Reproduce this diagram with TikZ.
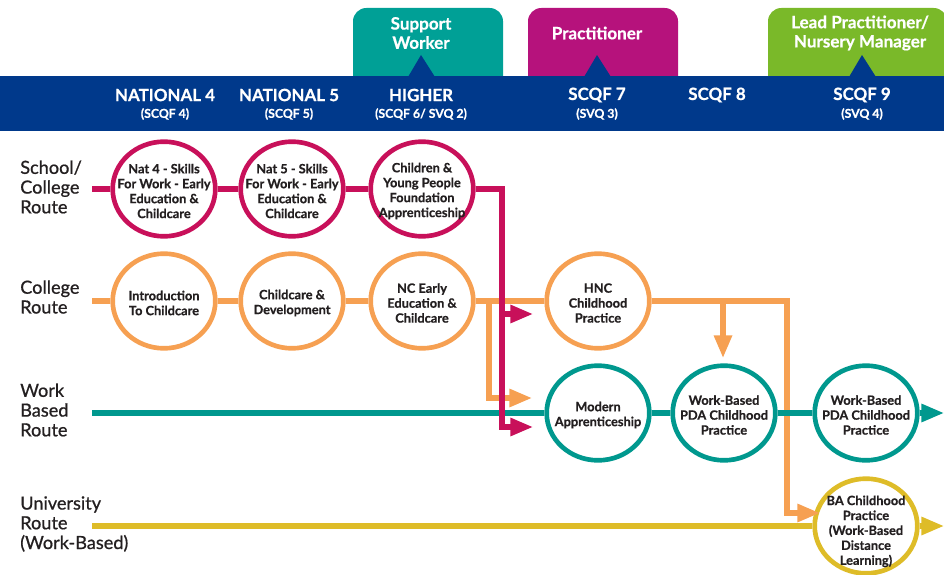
\documentclass[tikz,border=0pt]{standalone}
\usepackage{fontspec}
\setmainfont{Lato}[BoldFeatures={FakeBold=0.6}]
\newfontfamily\rowfont{Lato}[FakeBold=0.8]
\usetikzlibrary{shapes.geometric,arrows.meta}
\definecolor{bandblue}{RGB}{0,57,139}
\definecolor{swteal}{RGB}{0,160,150}
\definecolor{prmag}{RGB}{182,18,124}
\definecolor{lpgreen}{RGB}{122,185,41}
\definecolor{crim}{RGB}{200,16,90}
\definecolor{orng}{RGB}{246,160,82}
\definecolor{tline}{RGB}{0,152,142}
\definecolor{ylw}{RGB}{222,188,40}
\definecolor{ink}{RGB}{35,31,32}
\begin{document}
\begin{tikzpicture}[x=0.75pt,y=0.75pt,yscale=-1,xscale=1,
  ring/.style={ellipse,draw=#1,line width=3.5pt,fill=white,minimum width=77pt,minimum height=71pt,inner sep=0pt},
  ctext/.style={align=center,text=ink,inner sep=0pt,yshift=-1.5pt,font=\fontsize{9.6}{11.2}\selectfont\bfseries},
  route/.style={draw=#1,line width=3.8pt},
  routearr/.style={route=#1,-{Triangle[length=17pt,width=13pt]}},
  rowlab/.style={anchor=west,align=left,text=ink,inner sep=0pt,font=\fontsize{13.6}{14.8}\rowfont},
  head/.style={text=white,inner sep=0pt,font=\fontsize{12.7}{14}\selectfont\bfseries},
  sub/.style={text=white,inner sep=0pt,font=\fontsize{9.2}{10}\selectfont\bfseries},
  role/.style={align=center,text=white,inner sep=0pt,font=\fontsize{12.8}{14.4}\selectfont\bfseries}]
\useasboundingbox (0,0) rectangle (944,574);
\fill[swteal,rounded corners=10pt] (353,80) -- (353,8) -- (503,8) -- (503,80);
\fill[prmag,rounded corners=10pt] (528,80) -- (528,8) -- (678,8) -- (678,80);
\fill[lpgreen,rounded corners=10pt] (768,80) -- (768,8) -- (947,8) -- (947,80);
\fill[bandblue] (0,76) rectangle (944,131);
\fill[bandblue] (408,77) -- (421,55) -- (435,77) -- cycle;
\fill[bandblue] (584,77) -- (597,55) -- (611,77) -- cycle;
\fill[bandblue] (849,77) -- (862,55) -- (876,77) -- cycle;
\node[role] (sw) at (421,33) {Support\\Worker};
\node[role] (pr) at (597,33) {Practitioner};
\node[role] (lp) at (860,33) {Lead Practitioner/\\Nursery Manager};
\node[head] (n4) at (165,95) {NATIONAL 4};
\node[sub] (n4s) at (165,114) {(SCQF 4)};
\node[head] (n5) at (289,95) {NATIONAL 5};
\node[sub] (n5s) at (289,114) {(SCQF 5)};
\node[head] (hi) at (421,95) {HIGHER};
\node[sub] (his) at (421,114) {(SCQF 6/ SVQ 2)};
\node[head] (q7) at (597,95) {SCQF 7};
\node[sub] (q7s) at (597,114) {(SVQ 3)};
\node[head] (q8) at (717,95) {SCQF 8};
\node[head] (q9) at (862,95) {SCQF 9};
\node[sub] (q9s) at (862,114) {(SVQ 4)};
\node[rowlab] (r1) at (20,187) {School/\\College\\Route};
\node[rowlab] (r2) at (20,297) {College\\Route};
\node[rowlab] (r3) at (20,410) {Work\\Based\\Route};
\node[rowlab] (r4) at (20,524) {University\\Route\\(Work-Based)};
\node[ring=crim,label={[ctext]center:{Nat 4 - Skills\\For Work - Early\\Education \&\\Childcare}}] (nat4) at (164,189) {};
\node[ring=crim,label={[ctext]center:{Nat 5 - Skills\\For Work - Early\\Education \&\\Childcare}}] (nat5) at (292,189) {};
\node[ring=crim,label={[ctext]center:{Children \&\\Young People\\Foundation\\Apprenticeship}}] (cyp) at (422,189) {};
\node[ring=orng,label={[ctext]center:{Introduction\\To Childcare}}] (intro) at (164,301) {};
\node[ring=orng,label={[ctext]center:{Childcare \&\\Development}}] (cdev) at (292,301) {};
\node[ring=orng,label={[ctext]center:{NC Early\\Education \&\\Childcare}}] (nc) at (422,301) {};
\node[ring=orng,label={[ctext]center:{HNC\\Childhood\\Practice}}] (hnc) at (598,301) {};
\node[ring=tline,label={[ctext]center:{Modern\\Apprenticeship}}] (ma) at (598,413) {};
\node[ring=tline,label={[ctext]center:{Work-Based\\PDA Childhood\\Practice}}] (pda1) at (724,413) {};
\node[ring=tline,label={[ctext]center:{Work-Based\\PDA Childhood\\Practice}}] (pda2) at (866,413) {};
\node[ring=ylw,label={[ctext,yshift=-2.5pt]center:{BA Childhood\\Practice\\(Work-Based\\Distance\\Learning)}}] (ba) at (866,526) {};
\coordinate (s1) at (92,189);
\coordinate (s2) at (92,301);
\coordinate (s3) at (92,413);
\coordinate (s4) at (92,526);
\coordinate (m1) at (502,189);
\coordinate (m2) at (502,314);
\coordinate (mt1) at (533,314);
\coordinate (mt2) at (533,427);
\coordinate (o1) at (489,301);
\coordinate (ot1) at (532,398);
\coordinate (o2) at (723,301);
\coordinate (ot2) at (723,358);
\coordinate (o3) at (787,301);
\coordinate (ot3) at (820,513);
\coordinate (e3) at (944,413);
\coordinate (e4) at (944,526);
\draw[route=orng] (s2) -- (intro) (intro) -- (cdev) (cdev) -- (nc) (nc) -- (hnc);
\draw[routearr=orng] (hnc) -- (o3) |- (ot3);
\draw[routearr=orng] (o1) |- (ot1);
\draw[routearr=orng] (o2) -- (ot2);
\draw[route=ylw] (s4) -- (ba);
\draw[routearr=ylw] (ba) -- (e4);
\draw[route=tline] (s3) -- (ma) (ma) -- (pda1) (pda1) -- (pda2);
\draw[routearr=tline] (pda2) -- (e3);
\draw[route=crim] (s1) -- (nat4) (nat4) -- (nat5) (nat5) -- (cyp);
\draw[routearr=crim] (cyp) -- (m1) |- (mt2);
\draw[routearr=crim] (m2) -- (mt1);
\end{tikzpicture}
\end{document}
